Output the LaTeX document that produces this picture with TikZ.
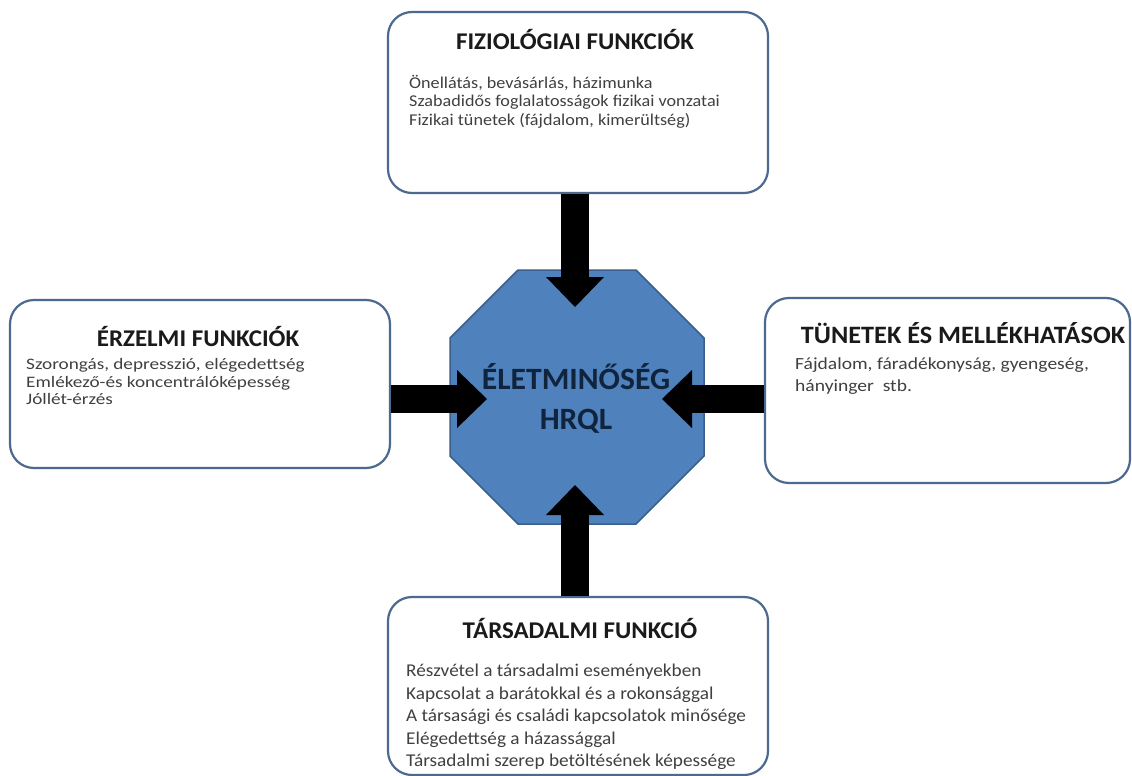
\documentclass[tikz,border=0pt]{standalone}
\usepackage{fontspec}
\setmainfont{Carlito}
\usetikzlibrary{arrows.meta,calc}
\definecolor{boxline}{HTML}{4C6A90}
\definecolor{octfill}{HTML}{4F81BD}
\definecolor{octline}{HTML}{3A5F8C}
\definecolor{octtext}{HTML}{10243E}
\definecolor{bodytext}{HTML}{404040}
\definecolor{titletext}{HTML}{1A1A1A}
\newcommand{\stretchby}[1]{\addfontfeature{FakeStretch=#1}}
\begin{document}
\begin{tikzpicture}[x=1pt,y=-1pt,
  panel/.style={draw=boxline,line width=2.2pt,rounded corners=24pt,fill=white,inner sep=0pt},
  fat/.style={line width=28pt,-{Triangle[width=58pt,length=30pt,line width=0pt]},black},
  ttl/.style={font=\fontsize{24}{28}\selectfont\bfseries\stretchby{1.04},text=titletext,anchor=base,inner sep=0pt},
  body/.style={align=left,anchor=north west,inner sep=0pt,text=bodytext}]
\useasboundingbox (0,0) rectangle (1132,776);
\fill[white] (0,0) rectangle (1132,776);

% boxes
\node[panel,minimum width=380pt,minimum height=181pt] (fiz) at (578,102.5) {};
\node[panel,minimum width=380pt,minimum height=168pt] (erz) at (200,384) {};
\node[panel,minimum width=365pt,minimum height=185pt] (tun) at (947.5,390.5) {};
\node[panel,minimum width=380pt,minimum height=178pt] (tar) at (578,686) {};

% octagon
\filldraw[fill=octfill,draw=octline,line width=1.5pt]
  (518,270) -- (636,270) -- (704,338) -- (704,456) -- (636,524) -- (518,524) -- (450,456) -- (450,338) -- cycle;
\node[align=center,font=\fontsize{31}{40}\selectfont\bfseries\stretchby{1.02},text=octtext,inner sep=0pt] (hrql) at (576,398) {ÉLETMINŐSÉG\\HRQL};

% titles
\node[ttl] (fizt) at (575,50) {FIZIOLÓGIAI FUNKCIÓK};
\node[ttl] (erzt) at (198,346) {ÉRZELMI FUNKCIÓK};
\node[ttl,font=\fontsize{25}{28}\selectfont\bfseries\stretchby{1.05}] (tunt) at (963,343) {TÜNETEK ÉS MELLÉKHATÁSOK};
\node[ttl] (tart) at (580,638) {TÁRSADALMI FUNKCIÓ};

% bodies
\node[body,font=\fontsize{16.5}{18.5}\selectfont\stretchby{1.1}] (fizb) at (409,75)
  {\strut Önellátás, bevásárlás, házimunka\\Szabadidős foglalatosságok fizikai vonzatai\\Fizikai tünetek (fájdalom, kimerültség)};
\node[body,font=\fontsize{16}{17.5}\selectfont\stretchby{1.2}] (erzb) at (26,357.5)
  {\strut Szorongás, depresszió, elégedettség\\Emlékező-és koncentrálóképesség\\Jóllét-érzés};
\node[body,font=\fontsize{17}{22}\selectfont\stretchby{1.15}] (tunb) at (795,353.6)
  {\strut Fájdalom, fáradékonyság, gyengeség,\\hányinger~~stb.};
\node[body,font=\fontsize{18}{22.5}\selectfont\stretchby{1.07}] (tarb) at (406,661)
  {\strut Részvétel a társadalmi eseményekben\\Kapcsolat a barátokkal és a rokonsággal\\A társasági és családi kapcsolatok minősége\\Elégedettség a házassággal\\Társadalmi szerep betöltésének képessége};

% arrow tips
\coordinate (tT) at (575,307);
\coordinate (tB) at (575,485);
\coordinate (tL) at (487,399);
\coordinate (tR) at (662,399);

\draw[fat] (fiz.south -| tT) -- (tT);
\draw[fat] (tar.north -| tB) -- (tB);
\draw[fat] (erz.east |- tL) -- (tL);
\draw[fat] (tun.west |- tR) -- (tR);
\end{tikzpicture}
\end{document}
